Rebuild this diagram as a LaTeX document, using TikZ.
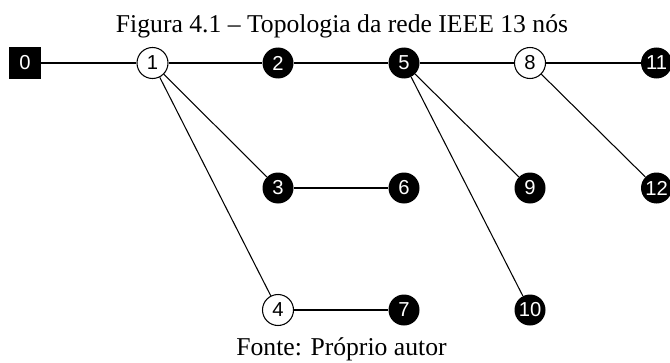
\documentclass[tikz,border=0pt]{standalone}
\usepackage{fontspec}
\setmainfont{Liberation Serif}
\newfontfamily\digitfont{Liberation Sans}
\usepackage{tikz}
\usetikzlibrary{shapes.geometric, arrows.meta, positioning}
\tikzset{
	busfull/.style={circle, fill=black, text=white, minimum size=0.62cm, inner sep=0pt, font=\digitfont\fontsize{11.5}{13}\selectfont},
	busopen/.style={circle, draw=black, fill=white, semithick, minimum size=0.62cm, inner sep=0pt, font=\digitfont\fontsize{11.5}{13}\selectfont},
	busroot/.style={rectangle, fill=black, text=white, minimum size=0.63cm, inner sep=0pt, font=\digitfont\fontsize{11.5}{13}\selectfont},
	feeder/.style={semithick}
}

\begin{document}
\begin{tikzpicture}
	\useasboundingbox (0,0) rectangle (13.4,7.24);
	
	% Caption and source
	\node[anchor=base, font=\fontsize{14.6}{17}\selectfont] (title) at (6.84, 6.58) {Figura 4.1 -- Topologia da rede IEEE 13 nós};
	\node[anchor=base, font=\fontsize{14.6}{17}\selectfont] (source) at (6.83, 0.14) {Fonte: Próprio autor};
	
	% Buses on the main line
	\node[busroot] (n0) at (0.5, 5.98) {0};
	\node[busopen] (n1) at (3.05, 5.98) {1};
	\node[busfull] (n2) at (5.56, 5.98) {2};
	\node[busfull] (n5) at (8.08, 5.98) {5};
	\node[busopen] (n8) at (10.6, 5.98) {8};
	\node[busfull] (n11) at (13.13, 5.98) {11};
	
	% Buses on the laterals
	\node[busfull] (n3) at (5.56, 3.48) {3};
	\node[busfull] (n6) at (8.08, 3.48) {6};
	\node[busfull] (n9) at (10.6, 3.48) {9};
	\node[busfull] (n12) at (13.13, 3.48) {12};
	\node[busopen] (n4) at (5.56, 1.04) {4};
	\node[busfull] (n7) at (8.08, 1.04) {7};
	\node[busfull] (n10) at (10.6, 1.04) {10};
	
	% Lines between buses
	\draw[feeder] (n0) -- (n1);
	\draw[feeder] (n1) -- (n2);
	\draw[feeder] (n2) -- (n5);
	\draw[feeder] (n5) -- (n8);
	\draw[feeder] (n8) -- (n11);
	\draw[feeder] (n1) -- (n3);
	\draw[feeder] (n1) -- (n4);
	\draw[feeder] (n3) -- (n6);
	\draw[feeder] (n4) -- (n7);
	\draw[feeder] (n5) -- (n9);
	\draw[feeder] (n5) -- (n10);
	\draw[feeder] (n8) -- (n12);
\end{tikzpicture}
\end{document}
